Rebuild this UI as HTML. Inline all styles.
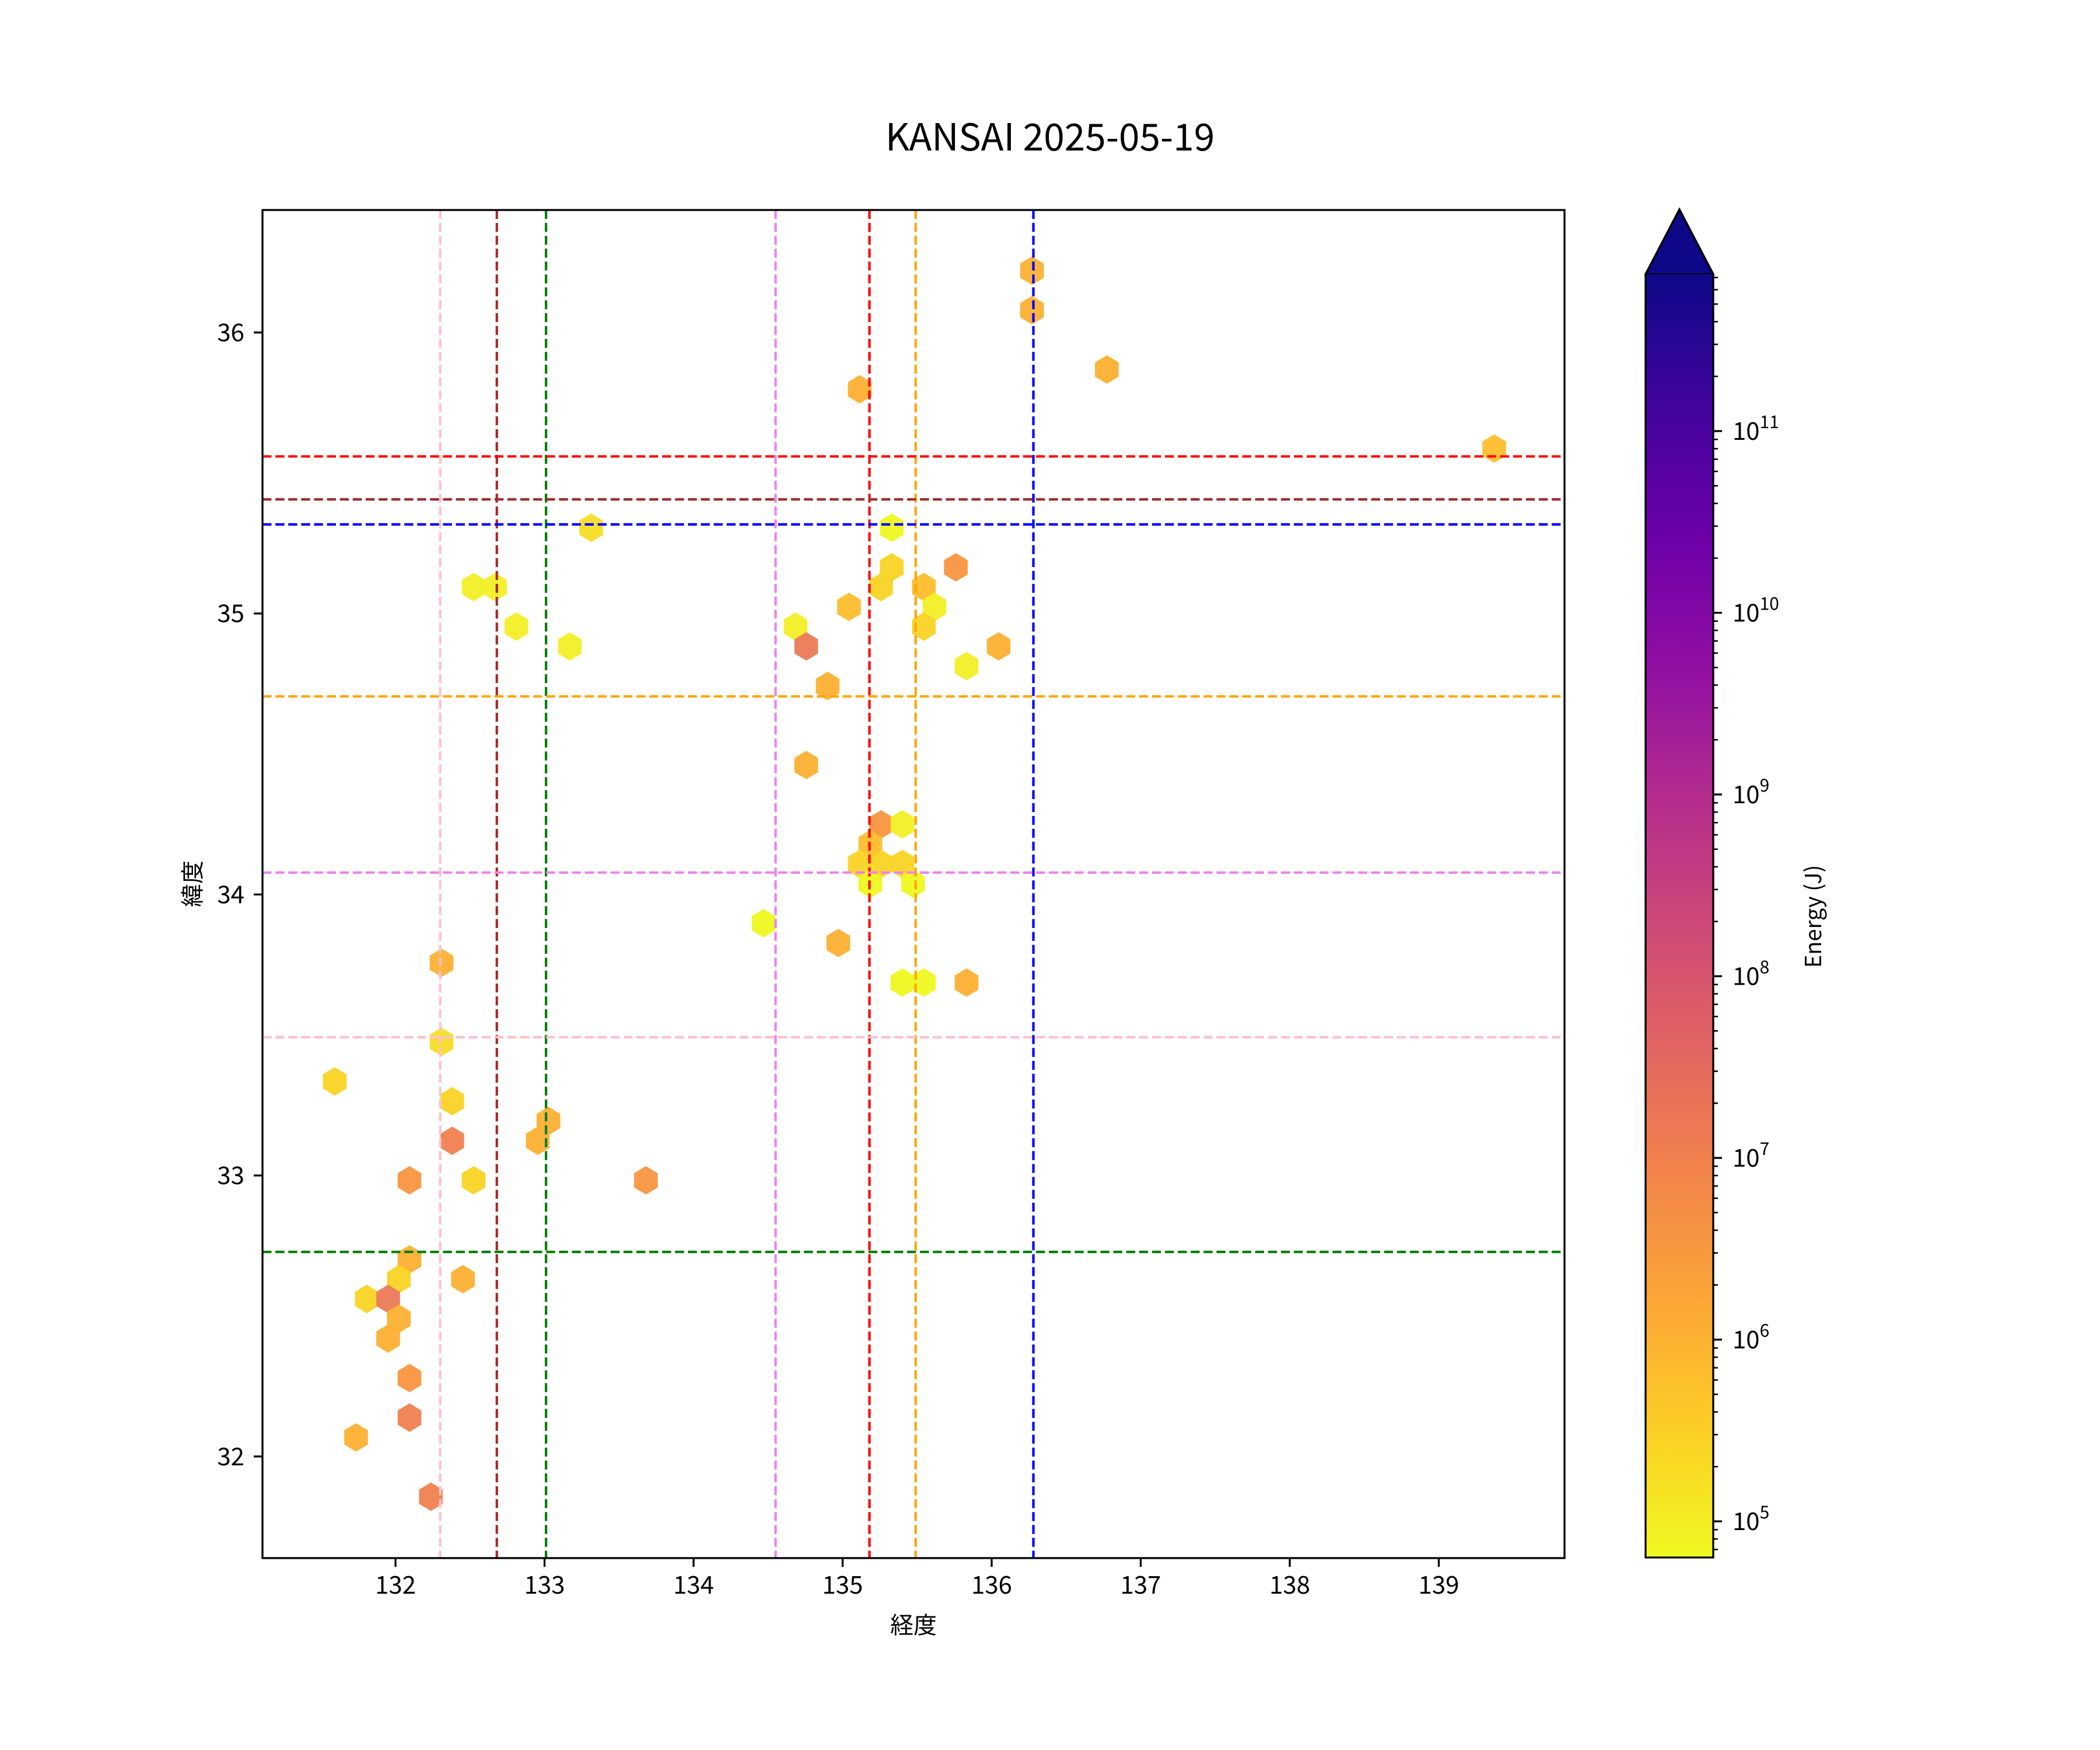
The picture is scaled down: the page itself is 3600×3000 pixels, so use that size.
<!DOCTYPE html>
<html><head><meta charset="utf-8"><style>
html,body{margin:0;padding:0;background:#fff;}
svg{display:block;}
text{font-family:"Noto Sans CJK JP","Liberation Sans",sans-serif;fill:#000;}
</style></head><body>
<svg id="s" width="3600" height="3000" viewBox="0 0 3600 3000" xmlns="http://www.w3.org/2000/svg">
<defs>
<linearGradient id="plasma" x1="0" y1="0" x2="0" y2="1">
<stop offset="0" stop-color="#0d0887"/><stop offset="0.1" stop-color="#41049d"/><stop offset="0.2" stop-color="#6a00a8"/><stop offset="0.3" stop-color="#8f0da4"/><stop offset="0.4" stop-color="#b12a90"/><stop offset="0.5" stop-color="#cc4778"/><stop offset="0.6" stop-color="#e16462"/><stop offset="0.7" stop-color="#f2844b"/><stop offset="0.8" stop-color="#fca636"/><stop offset="0.9" stop-color="#fcce25"/><stop offset="1" stop-color="#f0f921"/>
</linearGradient>
<clipPath id="ax"><rect x="450" y="360" width="2232" height="2311"/></clipPath>
</defs>
<rect width="3600" height="3000" fill="#fff"/>
<g id="hex" clip-path="url(#ax)"></g>
<g id="lines" clip-path="url(#ax)" fill="none" stroke-width="4.2" stroke-dasharray="15.4 6.7"></g>
<rect x="450" y="360" width="2232" height="2311" fill="none" stroke="#000" stroke-width="3.3"/>
<g id="ticks" stroke="#000" stroke-width="3.3"></g>
<g id="labels" font-size="42"></g>
<text x="1800" y="258" font-size="64" text-anchor="middle">KANSAI 2025-05-19</text>
<text x="1566" y="2800" font-size="40" text-anchor="middle">経度</text>
<text transform="translate(344,1515) rotate(-90)" font-size="40" text-anchor="middle">緯度</text>
<polygon points="2821,470 2879,359 2937,470" fill="#0d0887" stroke="#000" stroke-width="3.3"/>
<rect x="2821" y="470" width="116" height="2200" fill="url(#plasma)"/>
<path d="M2821,2670 L2821,470 L2879,359 L2937,470 L2937,2670 Z" fill="none" stroke="#000" stroke-width="3.3"/>
<g id="cbt" stroke="#000"></g>
<g id="cbl" font-size="42"></g>
<text transform="translate(3122,1571) rotate(-90)" font-size="38" text-anchor="middle">Energy (J)</text>
</svg>
<script>
var NS="http://www.w3.org/2000/svg";
function el(p,n,a,t){var e=document.createElementNS(NS,n);for(var k in a)e.setAttribute(k,a[k]);if(t!==undefined)e.textContent=t;document.getElementById(p).appendChild(e);return e;}
function X(lon){return 678+(lon-132)*255.5;}
function Y(lat){return 570+(36-lat)*481.7;}
var vl=[[132.30,"#ffc0cb"],[132.68,"#a52a2a"],[133.01,"#008000"],[134.55,"#ee82ee"],[135.18,"#ff0000"],[135.49,"#ffa500"],[136.28,"#0000ff"]];
vl.forEach(function(v){var x=X(v[0]);el("lines","line",{x1:x,x2:x,y1:360,y2:2671,stroke:v[1]});});
var hl=[[35.559,"#ff0000"],[35.406,"#a52a2a"],[35.317,"#0000ff"],[34.705,"#ffa500"],[34.078,"#ee82ee"],[33.492,"#ffc0cb"],[32.728,"#008000"]];
hl.forEach(function(v){var y=Y(v[0]);el("lines","line",{x1:450,x2:2682,y1:y,y2:y,stroke:v[1]});});
for(var l=132;l<=139;l++){var x=X(l);el("ticks","line",{x1:x,x2:x,y1:2671,y2:2686});el("labels","text",{x:x,y:2732,"text-anchor":"middle"},""+l);}
for(var l=32;l<=36;l++){var y=Y(l);el("ticks","line",{x1:435,x2:450,y1:y,y2:y});el("labels","text",{x:419,y:y+15,"text-anchor":"end"},""+l);}
var d0=2608,dec=311.5;
for(var e=4;e<=11;e++){for(var m=1;m<10;m++){var y=d0-(e-5+Math.log10(m))*dec;if(y<470||y>2670)continue;
 if(m==1){el("cbt","line",{x1:2937,x2:2952,y1:y,y2:y,"stroke-width":3.3});
  var t=el("cbl","text",{x:2970,y:y+15});t.textContent="10";var ts=document.createElementNS(NS,"tspan");ts.setAttribute("dy","-20");ts.setAttribute("font-size","30");ts.textContent=""+e;t.appendChild(ts);}
 else el("cbt","line",{x1:2937,x2:2945,y1:y,y2:y,"stroke-width":2.5});}}
var C={Y:"#f2ef26",y:"#eef820",G:"#f9d424",g:"#f7dd25",A:"#fcb032",a:"#fdbd2c",O:"#f8953f",o:"#f07f4f",R:"#eb7a57"};
var H=[[770,202,"A"],[770,232,"A"],[826,276,"A"],[641,291,"A"],[1116,335,"a"],[440,394,"g"],[665,394,"y"],[665,424,"G"],[713,424,"O"],[657,438,"G"],[689,438,"a"],[352,438,"Y"],[368,438,"Y"],[697,453,"Y"],[633,453,"a"],[593,468,"Y"],[689,468,"G"],[384,468,"Y"],[424,483,"Y"],[601,483,"R"],[745,483,"A"],[721,497,"Y"],[617,512,"A"],[601,571,"A"],[657,615,"O"],[673,615,"Y"],[649,630,"a"],[641,644,"G"],[657,644,"G"],[673,644,"G"],[649,659,"y"],[681,659,"y"],[569,689,"y"],[625,704,"A"],[673,733,"y"],[689,733,"y"],[721,733,"A"],[328,719,"A"],[328,778,"g"],[248,807,"G"],[336,822,"G"],[336,851,"o"],[400,851,"A"],[408,837,"A"],[304,881,"O"],[352,881,"G"],[481,881,"O"],[304,940,"A"],[296,955,"G"],[344,955,"A"],[272,969,"G"],[288,969,"R"],[296,984,"A"],[288,999,"A"],[304,1028,"O"],[304,1058,"o"],[264,1073,"A"],[320,1117,"o"]];
H.forEach(function(h){var x=1528.7+(h[0]-665)*2.290;var y=570+(h[1]-249)*2.2966;y=1481+Math.round((y-1481)/33.9)*33.9;
 var p=[[0,-24.4],[20.3,-12.2],[20.3,12.2],[0,24.4],[-20.3,12.2],[-20.3,-12.2]].map(function(q){return (x+q[0]).toFixed(1)+","+(y+q[1]).toFixed(1);}).join(" ");
 el("hex","polygon",{points:p,fill:C[h[2]],"fill-opacity":0.95});});
</script>
</body></html>
